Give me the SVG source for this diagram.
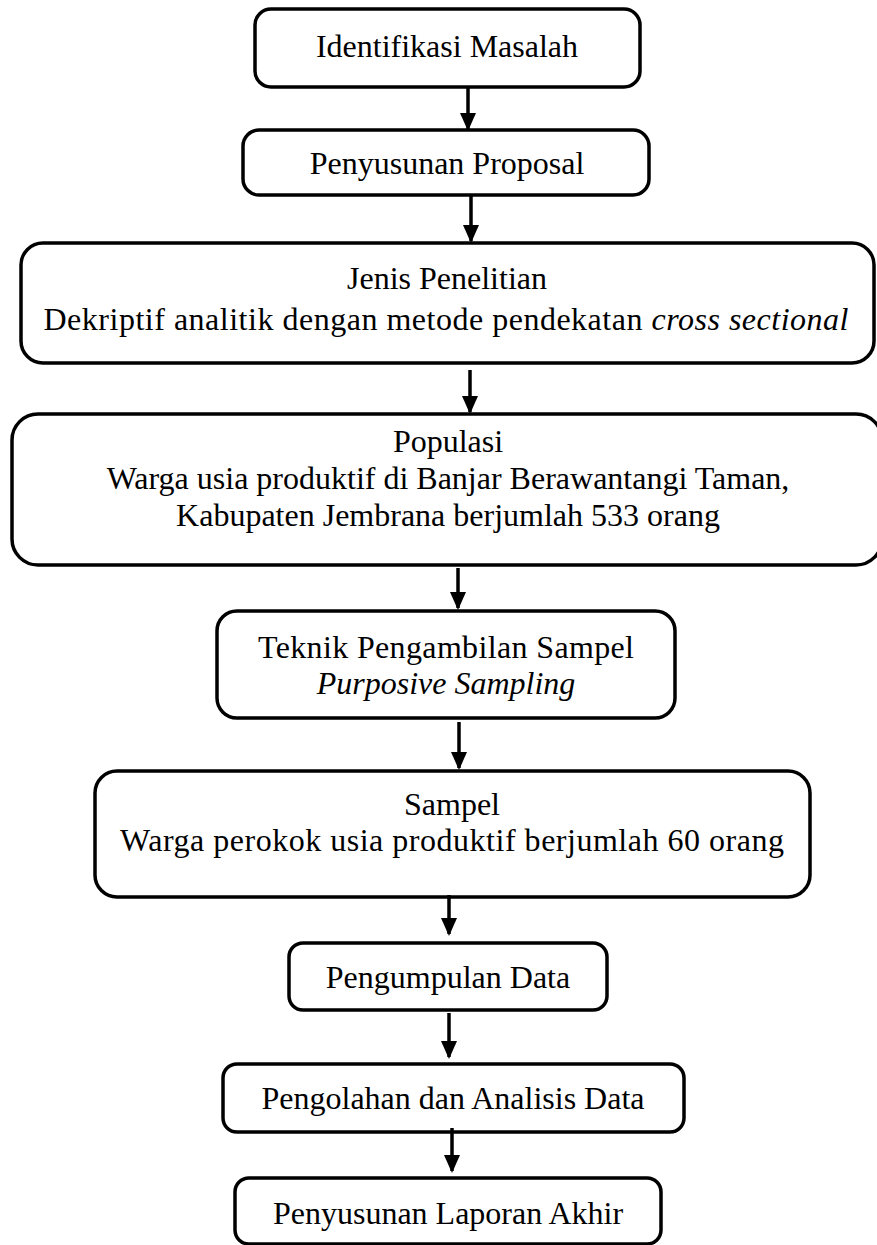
<svg xmlns="http://www.w3.org/2000/svg" width="877" height="1245" viewBox="0 0 877 1245">
<style>
.box{fill:#fff;stroke:#000;stroke-width:3.5}
.t{font-family:"Liberation Serif","Times New Roman",serif;font-size:32px;fill:#000;text-anchor:middle}
.i{font-style:italic}
.c{stroke:#000;stroke-width:3.5;fill:none}
</style>
<defs>
<marker id="a" markerUnits="userSpaceOnUse" markerWidth="18" markerHeight="16" refX="16" refY="8" orient="auto" viewBox="0 0 18 16">
<path d="M0,0 L18,8 L0,16 Z" fill="#000"/>
</marker>
</defs>
<g id="n1"><rect class="box" x="255" y="9" width="385" height="78" rx="16"/><text class="t" x="447" y="57">Identifikasi Masalah</text></g>
<g id="n2"><rect class="box" x="243" y="130" width="406" height="65" rx="16"/><text class="t" x="447" y="174">Penyusunan Proposal</text></g>
<g id="n3"><rect class="box" x="21" y="243" width="853" height="120" rx="22"/><text class="t" x="447" y="289">Jenis Penelitian</text><text class="t" x="446" y="330" textLength="805" lengthAdjust="spacing">Dekriptif analitik dengan metode pendekatan <tspan class="i">cross sectional</tspan></text></g>
<g id="n4"><rect class="box" x="12" y="414" width="870" height="151" rx="26"/><text class="t" x="448" y="452">Populasi</text><text class="t" x="448" y="489">Warga usia produktif di Banjar Berawantangi Taman,</text><text class="t" x="448" y="526">Kabupaten Jembrana berjumlah 533 orang</text></g>
<g id="n5"><rect class="box" x="217" y="611" width="458" height="107" rx="20"/><text class="t" x="446" y="658" textLength="376" lengthAdjust="spacing">Teknik Pengambilan Sampel</text><text class="t i" x="446" y="694">Purposive Sampling</text></g>
<g id="n6"><rect class="box" x="95" y="771" width="715" height="126" rx="22"/><text class="t" x="452" y="815">Sampel</text><text class="t" x="452" y="851" textLength="664" lengthAdjust="spacing">Warga perokok usia produktif berjumlah 60 orang</text></g>
<g id="n7"><rect class="box" x="289" y="943" width="318" height="67" rx="14"/><text class="t" x="448" y="988">Pengumpulan Data</text></g>
<g id="n8"><rect class="box" x="223" y="1064" width="461" height="68" rx="14"/><text class="t" x="453" y="1109">Pengolahan dan Analisis Data</text></g>
<g id="n9"><rect class="box" x="235" y="1178" width="426" height="66" rx="14"/><text class="t" x="448" y="1224">Penyusunan Laporan Akhir</text></g>
<g id="connectors">
<line class="c" x1="468" y1="87" x2="468" y2="129" marker-end="url(#a)"/>
<line class="c" x1="471" y1="196" x2="471" y2="241" marker-end="url(#a)"/>
<line class="c" x1="470" y1="370" x2="470" y2="412" marker-end="url(#a)"/>
<line class="c" x1="458" y1="568" x2="458" y2="608" marker-end="url(#a)"/>
<line class="c" x1="459" y1="722" x2="459" y2="768" marker-end="url(#a)"/>
<line class="c" x1="449" y1="895" x2="449" y2="934" marker-end="url(#a)"/>
<line class="c" x1="449" y1="1013" x2="449" y2="1057" marker-end="url(#a)"/>
<line class="c" x1="452" y1="1128" x2="452" y2="1171" marker-end="url(#a)"/>
</g>
</svg>
